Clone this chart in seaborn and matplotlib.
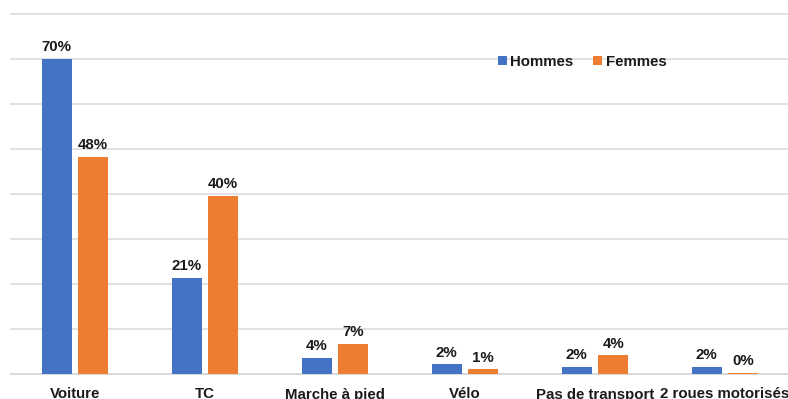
import matplotlib
matplotlib.use("Agg")
import matplotlib.pyplot as plt
import seaborn as sns
import pandas as pd

categories = ["Voiture", "TC", "Marche à pied", "Vélo", "Pas de transport", "2 roues motorisés"]
hommes = [70.0, 21.3, 3.6, 2.1, 1.6, 1.6]
femmes = [48.2, 39.6, 6.6, 1.0, 4.1, 0.3]
series_names = ["Hommes", "Femmes"]
colors = ["#4472C4", "#ED7D31"]

df = pd.DataFrame({
    "Mode": categories * 2,
    "Part": hommes + femmes,
    "Sexe": [series_names[0]] * len(categories) + [series_names[1]] * len(categories),
})

sns.set_theme(style="white")
plt.rcParams["font.family"] = ["Liberation Sans", "DejaVu Sans"]

W, H = 788, 399
fig = plt.figure(figsize=(W / 100, H / 100), dpi=100)
ax = fig.add_axes([10 / W, 24 / H, 778 / W, 375 / H])

sns.barplot(data=df, x="Mode", y="Part", hue="Sexe", palette=colors,
            width=0.56, gap=0.18, ax=ax, saturation=1, legend=True,
            zorder=3, linewidth=0, edgecolor="none")

ax.set_xlim(-0.5, -0.5 + 778 / 130)
ax.set_ylim(-0.25, 375 / 4.5 - 0.25)
ax.set_yticks(range(10, 81, 10))
ax.set_yticklabels([])
ax.grid(axis="y", color="#d9d9d9", linewidth=1.1)
ax.axhline(0, color="#d9d9d9", linewidth=1.4, zorder=1)
ax.set_axisbelow(True)
for s in ax.spines.values():
    s.set_visible(False)
ax.tick_params(axis="both", length=0)
ax.tick_params(axis="x", pad=9)
ax.set_xlabel("")
ax.set_ylabel("")
for lbl in ax.get_xticklabels():
    lbl.set_fontweight("bold")
    lbl.set_fontsize(10.8)
    lbl.set_color("#1a1a1a")

for cont, vals in zip(ax.containers, [hommes, femmes]):
    ax.bar_label(cont, labels=[f"{v:.0f}%" for v in vals], padding=3.5,
                 fontsize=10.8, fontweight="bold", color="#1a1a1a")

leg = ax.legend(loc="center", bbox_to_anchor=(582 / W, 1 - 62 / H),
                bbox_transform=fig.transFigure, ncol=2, frameon=False,
                handlelength=0.6, handleheight=0.6, handletextpad=0.25,
                columnspacing=1.3, prop={"weight": "bold", "size": 10.8})
for t in leg.get_texts():
    t.set_color("#1a1a1a")

fig.savefig("out.png", dpi=100)
